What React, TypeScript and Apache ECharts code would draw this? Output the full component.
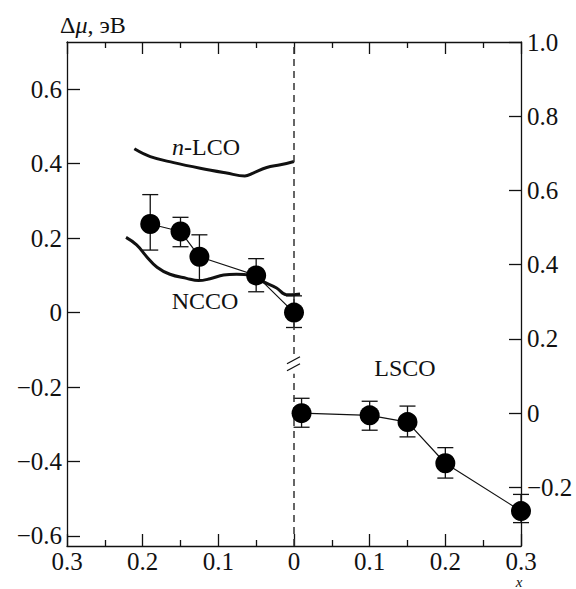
import React, { useEffect, useRef } from "react";
import * as echarts from "echarts";

// NCCO experimental points (left half, x counted leftwards from 0), left axis
const nccoPtsX = [0.19, 0.15, 0.125, 0.05, 0];
const nccoPtsY = [0.238, 0.218, 0.15, 0.1, 0.0];
const nccoErrHi = [0.317, 0.256, 0.209, 0.145, 0.045];
const nccoErrLo = [0.168, 0.177, 0.088, 0.056, -0.04];

// LSCO experimental points (right half), right axis
const lscoX = [0.01, 0.1, 0.15, 0.2, 0.3];
const lscoY = [0.0, -0.006, -0.024, -0.135, -0.264];
const lscoErrHi = [0.04, 0.032, 0.019, -0.093, -0.219];
const lscoErrLo = [-0.038, -0.046, -0.064, -0.175, -0.295];

// n-LCO curve (left half), left axis
const nlcoX = [0.211, 0.19, 0.159, 0.124, 0.089, 0.065, 0.054, 0.036, 0.018, 0.0];
const nlcoY = [0.44, 0.419, 0.403, 0.388, 0.375, 0.367, 0.375, 0.39, 0.397, 0.406];

// NCCO curve (left half), left axis
const nccoCurveX = [0.222, 0.208, 0.195, 0.181, 0.164, 0.142, 0.126, 0.111, 0.093, 0.076, 0.058, 0.041, 0.023, 0.01, 0.003, -0.008];
const nccoCurveY = [0.202, 0.182, 0.151, 0.122, 0.103, 0.092, 0.086, 0.091, 0.101, 0.103, 0.1, 0.083, 0.066, 0.048, 0.048, 0.05];

// tick values
const leftTicks = [-0.6, -0.4, -0.2, 0, 0.2, 0.4, 0.6];
const rightTicks = [-0.2, 0, 0.2, 0.4, 0.6, 0.8, 1.0];

const FONT = "'Liberation Serif', 'Times New Roman', serif";
const INK = "#111";
const FS = 25;

const fmtY = (v: number) => {
  if (Math.abs(v) < 1e-9) return "0";
  return (v < 0 ? "\u2212" : "") + Math.abs(v).toFixed(1);
};

export default function App() {
  const ref = useRef<HTMLDivElement>(null);
  useEffect(() => {
    document.body.style.margin = "0";
    if (!ref.current) return;
    const chart = echarts.init(ref.current, undefined, { renderer: "svg" });

    const leftPts = nccoPtsX.map((x, i) => [-x, nccoPtsY[i]]);
    const leftErr = nccoPtsX.map((x, i) => [-x, nccoPtsY[i], nccoErrHi[i], nccoErrLo[i]]);
    const rightPts = lscoX.map((x, i) => [x, lscoY[i]]);
    const rightErr = lscoX.map((x, i) => [x, lscoY[i], lscoErrHi[i], lscoErrLo[i]]);
    const nlco = nlcoX.map((x, i) => [-x, nlcoY[i]]);
    const nccoCurve = nccoCurveX.map((x, i) => [-x, nccoCurveY[i]]);

    const errRender = (params: any, api: any) => {
      const x = api.value(0);
      const hi = api.coord([x, api.value(2)]);
      const lo = api.coord([x, api.value(3)]);
      const hw = 8;
      const style = { stroke: INK, lineWidth: 1.3 };
      return {
        type: "group",
        children: [
          { type: "line", shape: { x1: hi[0], y1: hi[1], x2: lo[0], y2: lo[1] }, style },
          { type: "line", shape: { x1: hi[0] - hw, y1: hi[1], x2: hi[0] + hw, y2: hi[1] }, style },
          { type: "line", shape: { x1: lo[0] - hw, y1: lo[1], x2: lo[0] + hw, y2: lo[1] }, style },
        ],
      };
    };

    const xAxisBase = {
      type: "value",
      min: -0.3,
      max: 0.3,
      interval: 0.1,
      axisLine: { show: true, onZero: false, lineStyle: { color: INK, width: 1.3 } },
      axisTick: { show: true, inside: true, length: 12, lineStyle: { color: INK, width: 1.3 } },
      minorTick: { show: true, splitNumber: 2, length: 6, lineStyle: { color: INK, width: 1.3 } },
      splitLine: { show: false },
      minorSplitLine: { show: false },
    };

    const option: any = {
      animation: false,
      grid: { left: 67, right: 55, top: 42, bottom: 43, containLabel: false, outerBoundsMode: "none" },
      xAxis: [
        {
          ...xAxisBase,
          position: "bottom",
          axisLabel: {
            show: true,
            margin: 3,
            color: INK,
            fontFamily: FONT,
            fontSize: FS,
            formatter: (v: number) => (Math.abs(v) < 1e-9 ? "0" : Math.abs(v).toFixed(1)),
          },
        },
        {
          ...xAxisBase,
          position: "top",
          axisLabel: { show: false },
        },
      ],
      yAxis: [
        {
          type: "value",
          position: "left",
          min: -0.627,
          max: 0.727,
          axisLine: { show: true, onZero: false, lineStyle: { color: INK, width: 1.3 } },
          axisTick: {
            show: true,
            inside: true,
            length: 13,
            customValues: leftTicks,
            lineStyle: { color: INK, width: 1.3 },
          },
          axisLabel: {
            show: true,
            margin: 5,
            color: INK,
            fontFamily: FONT,
            fontSize: FS,
            customValues: leftTicks,
            formatter: fmtY,
          },
          splitLine: { show: false },
        },
        {
          type: "value",
          position: "right",
          min: -0.358,
          max: 1.0,
          axisLine: { show: true, onZero: false, lineStyle: { color: INK, width: 1.3 } },
          axisTick: {
            show: true,
            inside: true,
            length: 12,
            customValues: rightTicks,
            lineStyle: { color: INK, width: 1.3 },
          },
          axisLabel: {
            show: true,
            margin: 6,
            color: INK,
            fontFamily: FONT,
            fontSize: FS,
            customValues: rightTicks,
            formatter: fmtY,
          },
          splitLine: { show: false },
        },
      ],
      series: [
        {
          name: "divider",
          type: "line",
          data: [],
          markLine: {
            silent: true,
            symbol: "none",
            label: { show: false },
            lineStyle: { color: "#333", width: 1.5, type: [7, 5] },
            data: [{ xAxis: 0 }],
          },
        },
        {
          name: "n-LCO",
          type: "line",
          xAxisIndex: 0,
          yAxisIndex: 0,
          data: nlco,
          smooth: 0.4,
          showSymbol: false,
          lineStyle: { color: INK, width: 3 },
          z: 3,
        },
        {
          name: "NCCO curve",
          type: "line",
          xAxisIndex: 0,
          yAxisIndex: 0,
          data: nccoCurve,
          smooth: 0.4,
          showSymbol: false,
          lineStyle: { color: INK, width: 3 },
          z: 3,
        },
        {
          name: "NCCO err",
          type: "custom",
          xAxisIndex: 0,
          yAxisIndex: 0,
          renderItem: errRender,
          data: leftErr,
          z: 4,
        },
        {
          name: "LSCO err",
          type: "custom",
          xAxisIndex: 0,
          yAxisIndex: 1,
          renderItem: errRender,
          data: rightErr,
          z: 4,
        },
        {
          name: "NCCO",
          type: "line",
          xAxisIndex: 0,
          yAxisIndex: 0,
          data: leftPts,
          symbol: "circle",
          symbolSize: 20,
          itemStyle: { color: "#000" },
          lineStyle: { color: INK, width: 1.2 },
          z: 5,
        },
        {
          name: "LSCO",
          type: "line",
          xAxisIndex: 0,
          yAxisIndex: 1,
          data: rightPts,
          symbol: "circle",
          symbolSize: 20,
          itemStyle: { color: "#000" },
          lineStyle: { color: INK, width: 1.2 },
          z: 5,
        },
      ],
    };
    chart.setOption(option);

    // break mark on the dashed line
    const c = chart.convertToPixel({ xAxisIndex: 0, yAxisIndex: 0 }, [0, -0.14]) as number[];
    const brk = c
      ? [
          { type: "rect", shape: { x: c[0] - 3, y: c[1] - 9, width: 6, height: 18 }, style: { fill: "#fff" }, z: 10 },
          { type: "line", shape: { x1: c[0] - 7, y1: c[1] - 1, x2: c[0] + 6, y2: c[1] - 8 }, style: { stroke: INK, lineWidth: 1.3 }, z: 11 },
          { type: "line", shape: { x1: c[0] - 7, y1: c[1] + 6, x2: c[0] + 6, y2: c[1] - 1 }, style: { stroke: INK, lineWidth: 1.3 }, z: 11 },
        ]
      : [];

    const txt = (x: number, y: number, text: string, align = "center", size = 24, vAlign = "middle", lh?: number) => ({
      type: "text",
      x,
      y,
      z: 20,
      style: {
        text,
        fill: INK,
        font: `${size}px ${FONT}`,
        fontFamily: FONT,
        fontSize: size,
        align,
        verticalAlign: vAlign,
        ...(lh ? { lineHeight: lh } : {}),
        rich: {
          i: { fontStyle: "italic", fontFamily: FONT, fontSize: size, fill: INK, ...(lh ? { lineHeight: lh } : {}) },
        },
      },
    });

    chart.setOption({
      graphic: [
        ...brk,
        txt(60, 25, "\u0394{i|\u03bc}, \u044d\u0412", "left"),
        txt(206, 147, "{i|n}-LCO"),
        txt(205, 301, "NCCO"),
        txt(405, 368, "LSCO"),
        txt(519, 588, "{i|x}", "center", 15, "bottom", 12),
      ],
    });

    return () => chart.dispose();
  }, []);
  return <div ref={ref} style={{ width: 576, height: 589 }} />;
}
